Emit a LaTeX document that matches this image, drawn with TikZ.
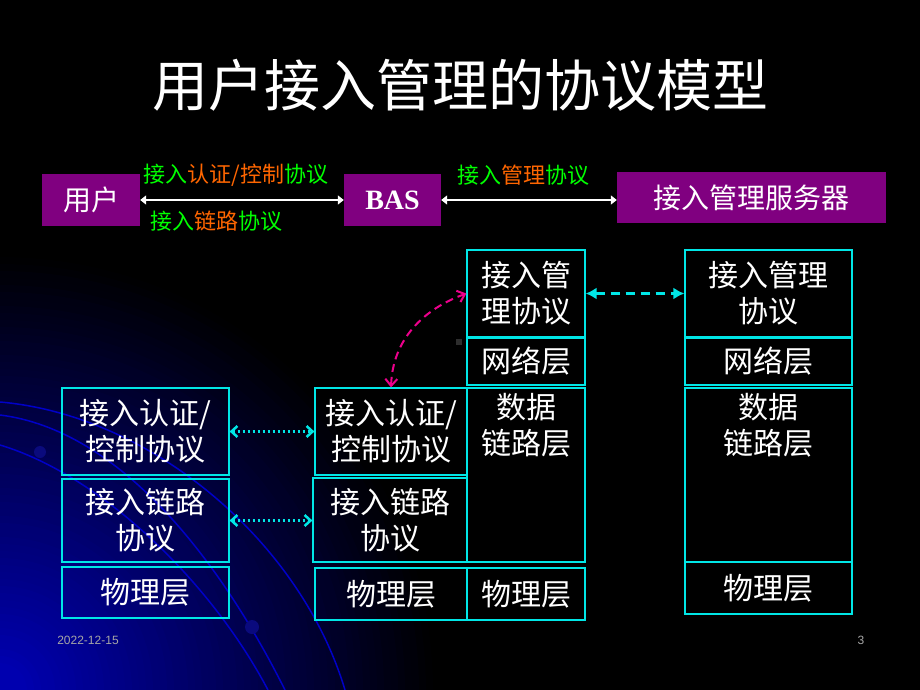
\documentclass[tikz,border=0pt]{standalone}
\usepackage{fontspec}
\usepackage{tikz}
\usetikzlibrary{arrows.meta,positioning}
\setmainfont{Noto Sans CJK SC}
\newfontfamily\basfont{Liberation Serif}
\newfontfamily\datefont{Liberation Sans}
\definecolor{boxcyan}{RGB}{0,230,230}
\definecolor{entpurple}{RGB}{128,0,128}
\definecolor{lgreen}{RGB}{0,255,0}
\definecolor{lorange}{RGB}{255,102,0}
\definecolor{bgblue}{RGB}{0,0,175}
\definecolor{arcblue}{RGB}{0,0,200}
\definecolor{ballblue}{RGB}{10,10,125}
\newcommand{\grn}[1]{\textcolor{lgreen}{#1}}
\newcommand{\org}[1]{\textcolor{lorange}{#1}}

\begin{document}
\begin{tikzpicture}[x=1pt, y=-1pt,
    layer/.style={draw=boxcyan, line width=1.2pt, text=white, align=center, inner sep=0pt, font=\fontsize{30}{36}\selectfont},
    layertxt/.style={text=white, align=center, inner sep=0pt, font=\fontsize{30}{36}\selectfont},
    entity/.style={fill=entpurple, text=white, inner sep=0pt, font=\fontsize{28}{34}\selectfont},
    proto/.style={inner sep=1pt, font=\fontsize{22}{26}\selectfont},
    linkarrow/.style={white, line width=2.5pt, {Triangle[length=6pt,width=9pt]}-{Triangle[length=6pt,width=9pt]}},
    peerdots/.style={boxcyan, line width=2.5pt, dash pattern=on 2.5pt off 2.5pt, {Straight Barb[length=6pt,width=11pt]}-{Straight Barb[length=6pt,width=11pt]}},
    peerdash/.style={boxcyan, line width=2.5pt, dash pattern=on 9pt off 6pt, {Latex[length=11pt,width=12pt]}-{Latex[length=11pt,width=12pt]}},
    relay/.style={magenta, line width=2pt, dash pattern=on 8pt off 5pt, {Straight Barb[length=7pt,width=12pt]}-{Straight Barb[length=7pt,width=12pt]}},
    arcline/.style={arcblue, line width=1.5pt}]
    \useasboundingbox (0,0) rectangle (920,690);
    % background
    \fill[black] (0,0) rectangle (920,690);
    \begin{scope}
        \clip (0,0) rectangle (920,690);
        \foreach \i [evaluate=\i as \pc using int(\i*100/59)] in {0,...,59}
            \fill[bgblue!\pc!black] (0,690) circle[radius=440pt-7pt*\i];
        \draw[arcline] (0,402) .. controls (150,415) and (300,540) .. (345,690);
        \draw[arcline] (0,415) .. controls (120,430) and (220,560) .. (285,690);
        \draw[arcline] (0,445) .. controls (100,475) and (210,580) .. (268,690);
        \fill[ballblue] (40,452) circle (6pt);
        \fill[ballblue] (252,627) circle (7pt);
    \end{scope}

    \node[text=white, font=\fontsize{56}{60}\selectfont] (title) at (460,85) {用户接入管理的协议模型};

    % entities
    \node[entity, minimum width=98pt, minimum height=52pt] (user) at (91,200) {用户};
    \node[entity, minimum width=97pt, minimum height=52pt, font=\fontsize{28}{34}\basfont\bfseries] (bas) at (392.5,200) {BAS};
    \node[entity, minimum width=269pt, minimum height=51pt] (ams) at (751.5,197.5) {接入管理服务器};
    \draw[linkarrow] (user) -- (bas);
    \draw[linkarrow] (bas.east) -- (bas.east -| ams.west);
    \node[proto] (p-auth) at (236,175) {\grn{接入}\org{认证/控制}\grn{协议}};
    \node[proto] (p-link) at (216,221) {\grn{接入}\org{链路}\grn{协议}};
    \node[proto] (p-mgmt) at (523,175) {\grn{接入}\org{管理}\grn{协议}};

    % user stack
    \node[layer, minimum width=167pt, minimum height=87pt] (u-auth) at (145.5,431.5) {接入认证/\\控制协议};
    \node[layer, minimum width=167pt, minimum height=83pt] (u-link) at (145.5,520.5) {接入链路\\协议};
    \node[layer, minimum width=167pt, minimum height=51pt] (u-phy) at (145.5,592.5) {物理层};

    % BAS stack
    \node[layer, minimum width=118pt, minimum height=87pt] (b-mgmt) at (526,293.5) {接入管\\理协议};
    \node[layer, minimum width=118pt, minimum height=47pt] (b-net) at (526,361.5) {网络层};
    \node[layer, minimum width=152pt, minimum height=87pt] (b-auth) at (391,431.5) {接入认证/\\控制协议};
    \node[layer, minimum width=154pt, minimum height=84pt] (b-link) at (390,520) {接入链路\\协议};
    \node[layer, minimum width=118pt, minimum height=174pt] (b-dl) at (526,475) {};
    \node[layertxt, below=6pt of b-dl.north] (b-dltxt) {数据\\链路层};
    \node[layer, minimum width=152pt, minimum height=52pt] (b-phyl) at (391,594) {物理层};
    \node[layer, minimum width=118pt, minimum height=52pt] (b-phyr) at (526,594) {物理层};
    \fill[gray!35!black] (456,339) rectangle (462,345);

    % server stack
    \node[layer, minimum width=167pt, minimum height=87pt] (s-mgmt) at (768.5,293.5) {接入管理\\协议};
    \node[layer, minimum width=167pt, minimum height=47pt] (s-net) at (768.5,361.5) {网络层};
    \node[layer, minimum width=167pt, minimum height=174pt] (s-dl) at (768.5,475) {};
    \node[layertxt, below=6pt of s-dl.north] (s-dltxt) {数据\\链路层};
    \node[layer, minimum width=167pt, minimum height=52pt] (s-phy) at (768.5,588) {物理层};

    % peer relations
    \draw[peerdots] (u-auth.east) -- (b-auth.west);
    \draw[peerdots] (u-link.east) -- (u-link.east -| b-link.west);
    \draw[peerdash] (b-mgmt.east) -- (s-mgmt.west);
    \draw[relay] (b-auth.north) to[out=88,in=200] (b-mgmt.west);

    \node[text=gray!70, font=\fontsize{12}{14}\datefont] (date) at (88,640) {2022-12-15};
    \node[text=gray!70, font=\fontsize{12}{14}\datefont] (page) at (861,640) {3};
\end{tikzpicture}
\end{document}
